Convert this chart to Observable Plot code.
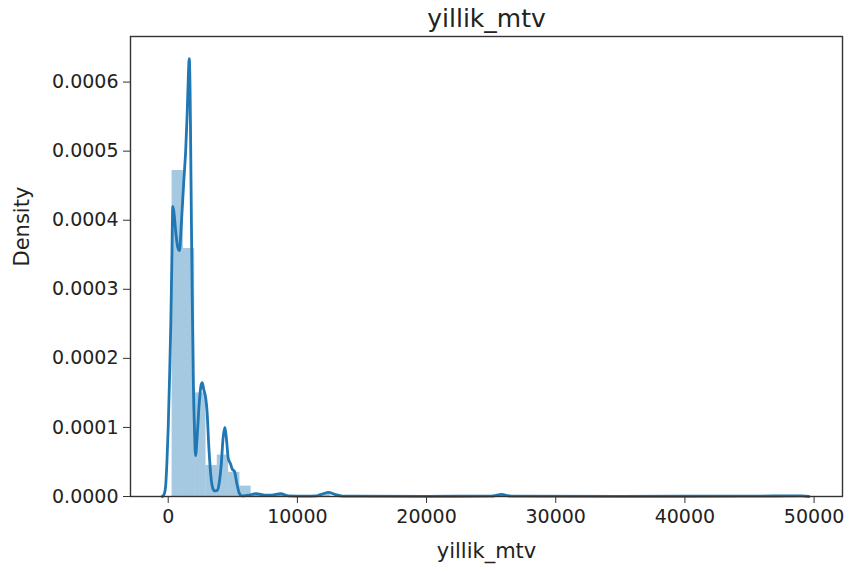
<!DOCTYPE html>
<html>
<head>
<meta charset="utf-8">
<script src="https://cdn.jsdelivr.net/npm/d3@7"></script>
<script src="https://cdn.jsdelivr.net/npm/@observablehq/plot@0.6"></script>
<style>
  html, body { margin: 0; padding: 0; background: #fff; }
  svg { font-family: "DejaVu Sans", sans-serif; }
</style>
</head>
<body>
<div id="chart"></div>
<script>
// Histogram bins (left edge, right edge, density)
const binX1 = [300, 1175, 2050, 2925, 3800, 4675, 5550, 6425, 7300, 8175, 11675, 25675, 48425];
const binX2 = [1175, 2050, 2925, 3800, 4675, 5550, 6425, 7300, 8175, 9050, 12550, 26550, 49300];
const binDensity = [0.000472, 0.000359, 0.000150, 0.000045, 0.000060, 0.000035, 0.000015, 0.000003, 0.000002, 0.000003, 0.000004, 0.000002, 0.000001];

// KDE curve points
const kdeX = [-460, -300, -200, -100, 0, 100, 200, 280, 356, 450, 600, 750, 875, 1000, 1210, 1350, 1470, 1560, 1627, 1690, 1727, 1800, 1860, 1950, 2037, 2115, 2250, 2400, 2550, 2634, 2750, 2900, 3000, 3150, 3300, 3450, 3600, 3800, 3950, 4100, 4250, 4384, 4500, 4650, 4826, 4950, 5136, 5300, 5500, 5700, 6200, 6800, 7500, 8000, 8700, 9300, 10500, 11500, 12000, 12400, 12900, 13500, 20000, 25000, 25800, 26500, 35000, 45000, 49000, 49600];
const kdeY = [0, 0.000004, 0.000015, 0.00005, 0.0001, 0.00017, 0.00025, 0.00034, 0.00042, 0.00041, 0.00038, 0.00036, 0.000356, 0.00039, 0.000458, 0.0005, 0.000555, 0.00061, 0.000634, 0.00059, 0.00053, 0.00039, 0.000288, 0.00016, 0.000095, 0.000059, 0.00009, 0.000135, 0.000162, 0.000165, 0.000155, 0.000143, 0.000125, 0.00007, 0.00003, 0.000012, 0.000008, 0.000009, 0.00002, 0.000045, 0.000085, 0.0001, 0.000085, 0.000055, 0.000047, 0.00004, 0.000036, 0.00002, 0.000005, 0.000001, 0.000002, 0.000004, 0.000002, 0.000002, 0.000004, 0.000001, 0.0000005, 0.000001, 0.000004, 0.000006, 0.000003, 0.0000005, 0.0000003, 0.0000005, 0.000003, 0.0000005, 0.0000003, 0.0000005, 0.000001, 0];

const xTicks = [0, 10000, 20000, 30000, 40000, 50000];
const yTicks = [0, 0.0001, 0.0002, 0.0003, 0.0004, 0.0005, 0.0006];
const titleText = "yillik_mtv";
const xLabel = "yillik_mtv";
const yLabel = "Density";

const bins = binX1.map((x1, i) => ({x1, x2: binX2[i], y: binDensity[i]}));
const kde = kdeX.map((x, i) => ({x, y: kdeY[i]}));

const blue = "#1f77b4";
const chart = Plot.plot({
  width: 851,
  height: 573,
  marginLeft: 130,
  marginRight: 9,
  marginTop: 36,
  marginBottom: 77,
  style: {fontFamily: "DejaVu Sans, sans-serif", color: "#222", background: "#fff"},
  x: {domain: [-2920, 52200], label: null},
  y: {domain: [0, 0.000666], label: null},
  marks: [
    Plot.rectY(bins, {x1: "x1", x2: "x2", y: "y", fill: blue, fillOpacity: 0.4, inset: 0}),
    Plot.line(kde, {x: "x", y: "y", stroke: blue, strokeWidth: 2.8, curve: "monotone-x"}),
    Plot.frame({stroke: "#333", strokeWidth: 1.4}),
    Plot.axisX({ticks: xTicks, tickFormat: d3.format("d"), tickSize: 7, tickPadding: 6, fontSize: 19, label: null, stroke: "#333"}),
    Plot.axisY({ticks: yTicks, tickFormat: d3.format(".4f"), tickSize: 7, tickPadding: 5, fontSize: 19, label: null, stroke: "#333"}),
    Plot.text([titleText], {frameAnchor: "top", dy: -18, fontSize: 25, lineAnchor: "middle", fill: "#222"}),
    Plot.text([xLabel], {frameAnchor: "bottom", dy: 55, fontSize: 21, lineAnchor: "middle", fill: "#222"}),
    Plot.text([yLabel], {frameAnchor: "left", dx: -108, rotate: -90, fontSize: 21, lineAnchor: "middle", fill: "#222"})
  ]
});
document.getElementById("chart").appendChild(chart);
</script>
</body>
</html>
